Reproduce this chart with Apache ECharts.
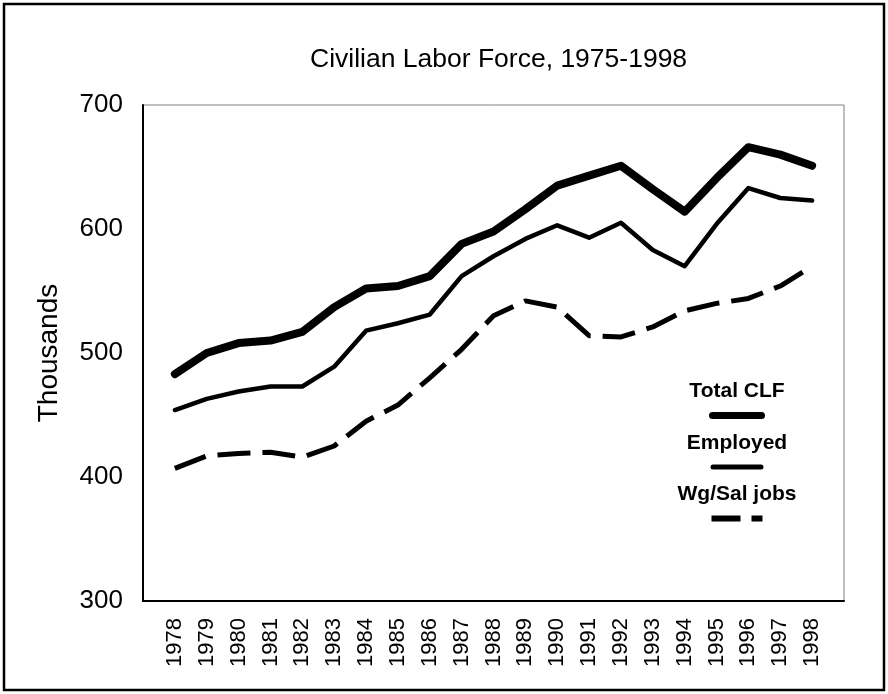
<!DOCTYPE html>
<html>
<head>
<meta charset="utf-8">
<script src="https://cdn.jsdelivr.net/npm/echarts@6/dist/echarts.min.js"></script>
<style>
  html, body { margin: 0; padding: 0; background: #fff; }
  #chart { width: 888px; height: 694px; }
</style>
</head>
<body>
<div id="chart"></div>
<script>
// Data (thousands)
const years = [1978, 1979, 1980, 1981, 1982, 1983, 1984, 1985, 1986, 1987, 1988,
  1989, 1990, 1991, 1992, 1993, 1994, 1995, 1996, 1997, 1998];
const totalCLF = [483, 500, 508, 510, 517, 537, 552, 554, 562, 588, 598,
  616, 635, 643, 651, 632, 614, 641, 666, 660, 651];
const employed = [454, 463, 469, 473, 473, 489, 518, 524, 531, 562, 578,
  592, 603, 593, 605, 583, 570, 604, 633, 625, 623];
const wgSalJobs = [407, 417, 419, 420, 416, 425, 445, 458, 480, 503, 530,
  542, 537, 514, 513, 521, 534, 540, 544, 554, 570];
const yTicks = [300, 400, 500, 600, 700];

const FONT = '"Liberation Sans", Arial, sans-serif';
const pairs = vals => years.map((y, i) => [y, vals[i]]);

const chart = echarts.init(document.getElementById('chart'));

// legend marker bars drawn as rich text boxes under each name
const legendMarks = {
  'Total CLF': '{thick|}',
  'Employed': '{thin|}',
  'Wg/Sal jobs': '{d1|}{sp|}{d2|}',
};

chart.setOption({
  animation: false,
  backgroundColor: '#fff',
  title: {
    text: 'Civilian Labor Force, 1975-1998',
    left: 305,
    top: 41,
    textStyle: { fontFamily: FONT, fontSize: 26.5, fontWeight: 'normal', color: '#000' },
  },
  grid: {
    left: 143, right: 44, top: 105, bottom: 93,
    show: true, borderColor: '#808080', borderWidth: 1,
  },
  legend: {
    orient: 'vertical',
    left: 666,
    top: 381,
    padding: 0,
    itemGap: 11,
    itemWidth: 0,
    itemHeight: 0,
    selectedMode: false,
    data: ['Total CLF', 'Employed', 'Wg/Sal jobs'],
    formatter: name => '{t|' + name + '}\n' + legendMarks[name],
    textStyle: {
      color: '#000',
      rich: {
        t: { fontFamily: FONT, fontSize: 21, fontWeight: 'bold', color: '#000',
          width: 130, align: 'center', lineHeight: 26 },
        thick: { width: 56, height: 7, backgroundColor: '#000', borderRadius: 3.5,
          align: 'center', lineHeight: 22 },
        thin: { width: 53, height: 5, backgroundColor: '#000', borderRadius: 2.5,
          align: 'center', lineHeight: 22 },
        d1: { width: 29, height: 6, backgroundColor: '#000', align: 'center', lineHeight: 22 },
        sp: { width: 11, height: 6, align: 'center', lineHeight: 22 },
        d2: { width: 11, height: 6, backgroundColor: '#000', align: 'center', lineHeight: 22 },
      },
    },
  },
  xAxis: {
    type: 'value',
    min: 1977,
    max: 1999,
    interval: 1,
    axisLine: { lineStyle: { color: '#000', width: 2 } },
    axisTick: { show: false },
    splitLine: { show: false },
    axisLabel: {
      rotate: 90,
      margin: 17,
      showMinLabel: false,
      showMaxLabel: false,
      color: '#000',
      fontFamily: FONT,
      fontSize: 22,
      formatter: v => String(v),
    },
  },
  yAxis: {
    type: 'value',
    min: yTicks[0],
    max: yTicks[yTicks.length - 1],
    interval: 100,
    name: 'Thousands',
    nameLocation: 'middle',
    nameGap: 80,
    nameTextStyle: { fontFamily: FONT, fontSize: 28, color: '#000' },
    axisLine: { show: true, lineStyle: { color: '#000', width: 2 } },
    axisTick: { show: false },
    splitLine: { show: false },
    axisLabel: { color: '#000', fontFamily: FONT, fontSize: 26, margin: 20 },
  },
  series: [
    {
      name: 'Total CLF',
      type: 'line',
      data: pairs(totalCLF),
      showSymbol: false,
      symbol: 'none',
      itemStyle: { color: '#000' },
      lineStyle: { color: '#000', width: 8, cap: 'round', join: 'round' },
    },
    {
      name: 'Employed',
      type: 'line',
      data: pairs(employed),
      showSymbol: false,
      symbol: 'none',
      itemStyle: { color: '#000' },
      lineStyle: { color: '#000', width: 4.5, cap: 'round', join: 'round' },
    },
    {
      name: 'Wg/Sal jobs',
      type: 'line',
      data: pairs(wgSalJobs),
      showSymbol: false,
      symbol: 'none',
      itemStyle: { color: '#000' },
      lineStyle: { color: '#000', width: 5, type: [33, 12] },
    },
  ],
  graphic: [{
    type: 'rect',
    shape: { x: 4, y: 4, width: 880, height: 686 },
    style: { fill: 'none', stroke: '#000', lineWidth: 2.5 },
    silent: true,
  }],
});

window.addEventListener('resize', () => chart.resize());
</script>
</body>
</html>
